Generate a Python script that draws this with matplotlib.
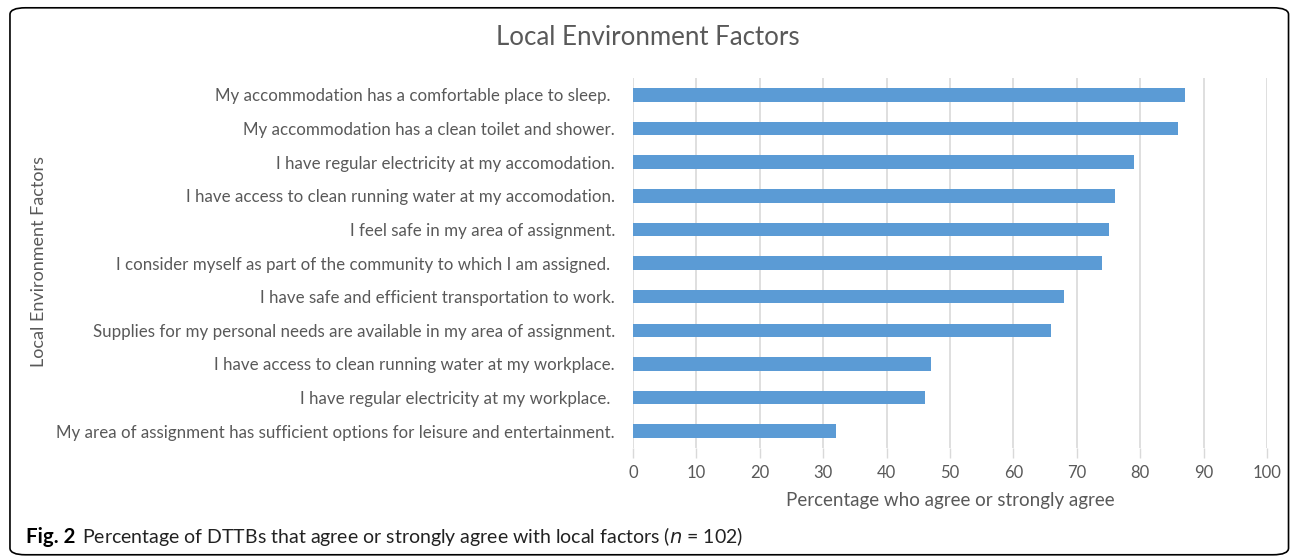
import matplotlib
matplotlib.use("Agg")
import matplotlib.pyplot as plt
from matplotlib.patches import FancyBboxPatch

# Data
factors = [
    "My accommodation has a comfortable place to sleep. ",
    "My accommodation has a clean toilet and shower.",
    "I have regular electricity at my accomodation.",
    "I have access to clean running water at my accomodation.",
    "I feel safe in my area of assignment.",
    "I consider myself as part of the community to which I am assigned. ",
    "I have safe and efficient transportation to work.",
    "Supplies for my personal needs are available in my area of assignment.",
    "I have access to clean running water at my workplace.",
    "I have regular electricity at my workplace. ",
    "My area of assignment has sufficient options for leisure and entertainment.",
]
percent_agree = [87, 86, 79, 76, 75, 74, 68, 66, 47, 46, 32]
x_ticks = list(range(0, 101, 10))

plt.rcParams["font.family"] = ["Lato", "DejaVu Sans"]
text_grey = "#595959"
bar_blue = "#5b9bd5"

fig = plt.figure(figsize=(12.95, 5.57), dpi=100)

# rounded frame round the whole figure
frame = FancyBboxPatch((0.0077, 0.004), 0.9873, 0.982,
                       boxstyle="round,pad=0,rounding_size=0.012",
                       transform=fig.transFigure, fill=False,
                       edgecolor="black", linewidth=1.2)
fig.patches.append(frame)

ax = fig.add_axes([0.4888, 0.1957, 0.4896, 0.664])
ax.barh(range(len(factors)), percent_agree, height=0.4, color=bar_blue, zorder=3)
ax.set_ylim(len(factors) - 0.5, -0.5)
ax.set_xlim(0, 100)
ax.set_xticks(x_ticks)
ax.set_yticks(range(len(factors)))
ax.set_yticklabels(factors)

ax.grid(axis="x", color="#d9d9d9", linewidth=1.2, zorder=0)
for side in ["top", "right", "left", "bottom"]:
    ax.spines[side].set_visible(False)
ax.tick_params(axis="y", length=0, pad=13, labelsize=12.2, labelcolor=text_grey)
ax.tick_params(axis="x", length=7, width=1.0, color="#d9d9d9", pad=5,
               labelsize=12, labelcolor=text_grey)

ax.set_xlabel("Percentage who agree or strongly agree", fontsize=13.5,
              color=text_grey, labelpad=8)

fig.text(0.5, 0.933, "Local Environment Factors", ha="center", va="center",
         fontsize=18.6, color=text_grey)
fig.text(0.03, 0.53, "Local Environment Factors", rotation=90, ha="center",
         va="center", fontsize=13, color=text_grey)

fig.text(0.0201, 0.036, "Fig. 2", fontweight="bold", fontsize=14.8, ha="left",
         va="center", color="black")
fig.text(0.0633, 0.036,
         "Percentage of DTTBs that agree or strongly agree with local factors ($n$ = 102)",
         fontsize=14, ha="left", va="center", color="#222222")

fig.savefig("out.png", dpi=100)
